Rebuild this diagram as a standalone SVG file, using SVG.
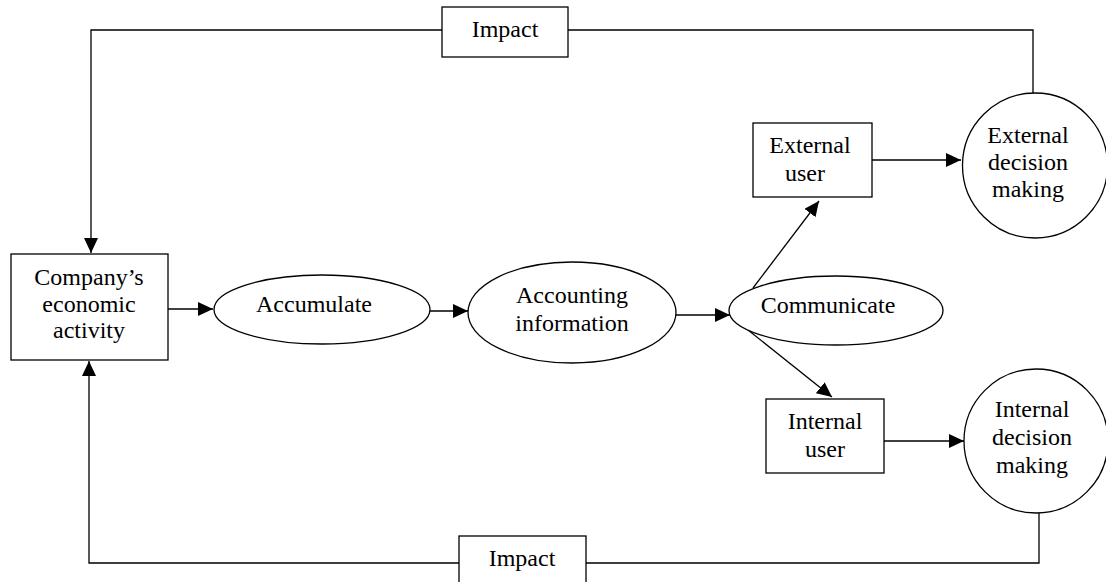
<svg xmlns="http://www.w3.org/2000/svg" width="1106" height="582" viewBox="0 0 1106 582">
<style>
.s{fill:#fff;stroke:#000;stroke-width:1.3}
.c{fill:none;stroke:#000;stroke-width:1.3}
text{font-family:"Liberation Serif","Times New Roman",serif;font-size:24px;fill:#000;text-anchor:middle}
</style>
<defs>
<marker id="ah" markerUnits="userSpaceOnUse" markerWidth="16" markerHeight="14" refX="15" refY="7" orient="auto">
<path d="M0,0 L15,7 L0,14 z" fill="#000"/>
</marker>
</defs>
<rect width="1106" height="582" fill="#fff"/>
<g id="connectors">
<polyline class="c" points="1033,93 1033,30 568,30"/>
<polyline class="c" points="442,30 91,30 91,253" marker-end="url(#ah)"/>
<polyline class="c" points="1039,513 1039,563 586,563"/>
<polyline class="c" points="459,563 89,563 89,361" marker-end="url(#ah)"/>
<line class="c" x1="168" y1="309" x2="213" y2="309" marker-end="url(#ah)"/>
<line class="c" x1="430" y1="311" x2="468" y2="311" marker-end="url(#ah)"/>
<line class="c" x1="676" y1="315" x2="730" y2="315" marker-end="url(#ah)"/>
<line class="c" x1="753" y1="288" x2="819" y2="201" marker-end="url(#ah)"/>
<line class="c" x1="748" y1="330" x2="832" y2="397" marker-end="url(#ah)"/>
<line class="c" x1="872" y1="160" x2="961" y2="160" marker-end="url(#ah)"/>
<line class="c" x1="884" y1="441" x2="964" y2="441" marker-end="url(#ah)"/>
</g>
<g id="impact-top">
<rect class="s" x="442" y="7" width="126" height="50"/>
<text x="505" y="37">Impact</text>
</g>
<g id="impact-bottom">
<rect class="s" x="459" y="536" width="127" height="60"/>
<text x="522" y="566">Impact</text>
</g>
<g id="company">
<rect class="s" x="11" y="254" width="157" height="106"/>
<text x="89" y="285">Company’s</text>
<text x="89" y="312">economic</text>
<text x="89" y="338">activity</text>
</g>
<g id="accumulate">
<ellipse class="s" cx="322" cy="309.5" rx="108" ry="34.5"/>
<text x="314" y="312">Accumulate</text>
</g>
<g id="accounting">
<ellipse class="s" cx="572" cy="312.5" rx="104" ry="50.5"/>
<text x="572" y="303">Accounting</text>
<text x="572" y="331">information</text>
</g>
<g id="communicate">
<ellipse class="s" cx="836" cy="310.5" rx="107" ry="34.5"/>
<text x="828" y="313">Communicate</text>
</g>
<g id="external-user">
<rect class="s" x="753" y="123" width="119" height="74"/>
<text x="810" y="153">External</text>
<text x="805" y="181">user</text>
</g>
<g id="internal-user">
<rect class="s" x="766" y="399" width="118" height="74"/>
<text x="825" y="429">Internal</text>
<text x="825" y="457">user</text>
</g>
<g id="external-decision">
<circle class="s" cx="1035" cy="165.5" r="72.5"/>
<text x="1028" y="143">External</text>
<text x="1028" y="170">decision</text>
<text x="1028" y="197">making</text>
</g>
<g id="internal-decision">
<circle class="s" cx="1036" cy="441" r="72"/>
<text x="1032" y="417">Internal</text>
<text x="1032" y="445">decision</text>
<text x="1032" y="473">making</text>
</g>
</svg>
